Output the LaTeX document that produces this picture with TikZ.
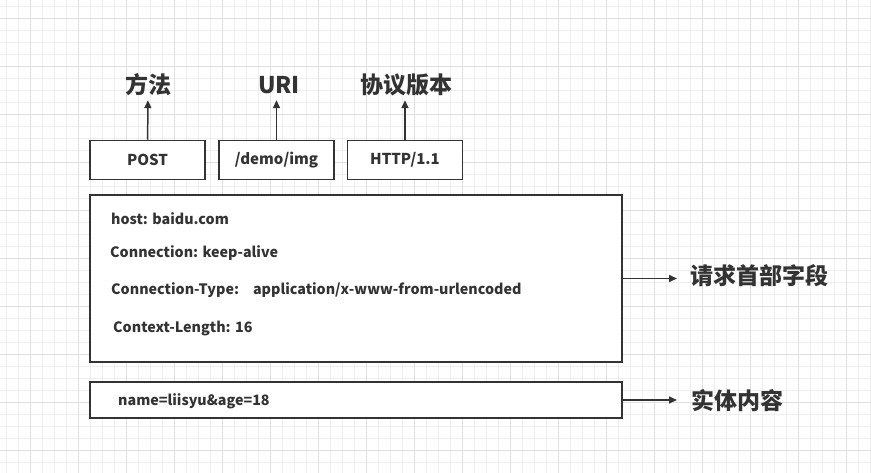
\documentclass[tikz,border=0pt]{standalone}
\usepackage{fontspec}
\setmainfont{Noto Sans CJK SC}
\usetikzlibrary{arrows.meta}
\definecolor{ink}{HTML}{333333}
\definecolor{gridminor}{HTML}{EEEEEE}
\definecolor{gridmajor}{HTML}{E0E0E0}

\begin{document}
\begin{tikzpicture}[x=1pt,y=-1pt,
  box/.style={draw=ink,fill=white,line width=1.5pt,rectangle,inner sep=0pt},
  field/.style={box,minimum width=115pt,minimum height=39pt,text=ink,
    font=\bfseries\fontsize{15}{18}\selectfont},
  line/.style={anchor=west,inner sep=0pt,text=ink,text height=10pt,text depth=3pt,
    font=\bfseries\fontsize{14.3}{17}\selectfont},
  tag/.style={inner sep=0pt,text=ink,text height=16pt,text depth=5pt,
    font=\bfseries\fontsize{23}{27}\selectfont},
  link/.style={draw=ink,line width=1.5pt,-{Triangle[width=7pt,length=8pt]}}]

\useasboundingbox[fill=white] (0,0) rectangle (871,473);

% grid
\foreach \gx in {6,18,...,870} \draw[gridminor,line width=0.8pt] (\gx,0) -- (\gx,473);
\foreach \gy in {6,18,...,472} \draw[gridminor,line width=0.8pt] (0,\gy) -- (871,\gy);
\foreach \gx in {30,78,...,846} \draw[gridmajor,line width=0.8pt] (\gx,0) -- (\gx,473);
\foreach \gy in {18,66,...,450} \draw[gridmajor,line width=0.8pt] (0,\gy) -- (871,\gy);

\node[field] (post) at (147.5,160) {POST};

\node[field] (path) at (276.5,160) {/demo/img};

\node[field] (ver) at (405,160) {HTTP/1.1};

\node[tag] (method) at (148,88.5) {方法};

\node[tag] (uri) at (279,88.5) {URI};

\node[tag] (proto) at (406,88.5) {协议版本};

\node[box,minimum width=532pt,minimum height=167pt] (hdr) at (356,278.5) {};

\node[box,minimum width=532pt,minimum height=36pt] (body) at (356,400) {};

\node[line] (host) at (111,221) {host: baidu.com};
\node[line] (conn) at (110,254) {Connection: keep-alive};
\node[line] (ctype) at (111,291) {Connection-Type:\hspace{14pt}application/x-www-from-urlencoded};
\node[line] (clen) at (113,329) {Context-Length: 16};
\node[line] (data) at (118,402) {name=liisyu\&age=18};

\node[tag,anchor=west] (hdrtag) at (690,279.5) {请求首部字段};

\node[tag,anchor=west] (bodytag) at (691,404) {实体内容};

\draw[link,shorten >=1pt] (post) -- (method);
\draw[link,shorten >=1pt] (path.north) -- (uri.south -| path.north);
\draw[link,shorten >=1pt] (ver.north) -- (proto.south -| ver.north);

\draw[link,shorten >=13pt] (hdr.east) -- (hdr.east -| hdrtag.west);
\draw[link,shorten >=14pt] (body.east) -- (body.east -| bodytag.west);

\end{tikzpicture}
\end{document}
